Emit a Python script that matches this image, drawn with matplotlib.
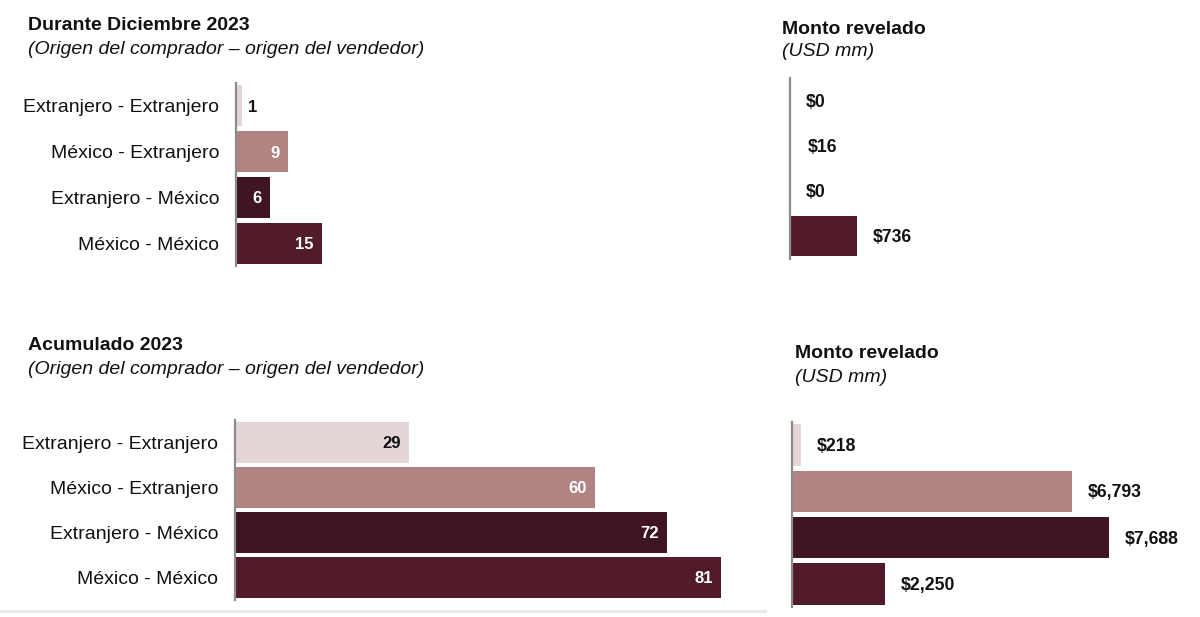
import matplotlib.pyplot as plt
from matplotlib.lines import Line2D

plt.rcParams['font.family'] = ['Liberation Sans', 'DejaVu Sans']

categorias = ['Extranjero - Extranjero', 'México - Extranjero',
              'Extranjero - México', 'México - México']
colores = ['#e4d5d7', '#b28383', '#3e1520', '#511b2a']

dic_num = [1, 9, 6, 15]
dic_monto = [0, 16, 0, 736]
acum_num = [29, 60, 72, 81]
acum_monto = [218, 6793, 7688, 2250]

W, H = 1200, 617
fig = plt.figure(figsize=(12, 6.17), dpi=100)
txt = '#111111'


def px_axes(x0, y0, w, h):
    # rectangle in pixels (top-left origin) -> figure fraction
    return fig.add_axes([x0 / W, 1 - (y0 + h) / H, w / W, h / H])


def base(ax, xmax, labels):
    ax.set_xlim(0, xmax)
    ax.set_ylim(3.5, -0.5)
    for s in ['top', 'right', 'bottom']:
        ax.spines[s].set_visible(False)
    ax.spines['left'].set_color('#8c8c8c')
    ax.spines['left'].set_linewidth(1.6)
    ax.set_xticks([])
    ax.tick_params(axis='y', length=0, pad=12)
    ax.set_yticks(range(4))
    if labels:
        ax.set_yticklabels(categorias, fontsize=14, color=txt)
    else:
        ax.set_yticklabels([])
    ax.patch.set_alpha(0)


def conteo(ax, vals, alto):
    ax.barh(range(4), vals, height=alto, color=colores)
    for i, v in enumerate(vals):
        ancho_px = v * ax.bbox.width / ax.get_xlim()[1]
        if ancho_px < 20:
            ax.annotate(str(v), (v, i), xytext=(4.5, -1), textcoords='offset points',
                        ha='left', va='center', fontsize=12, fontweight='bold', color=txt)
        else:
            c = txt if i == 0 else 'white'
            ax.annotate(str(v), (v, i), xytext=(-6, -1), textcoords='offset points',
                        ha='right', va='center', fontsize=12, fontweight='bold', color=c)


def monto(ax, vals, alto):
    ax.barh(range(4), vals, height=alto, color=colores)
    for i, v in enumerate(vals):
        ax.annotate('${:,}'.format(v), (v, i), xytext=(11.5, -1), textcoords='offset points',
                    ha='left', va='center', fontsize=12.7, fontweight='bold', color=txt)


# Durante diciembre
ax1 = px_axes(236, 83, 300, 183)
base(ax1, 300 / 5.73, True)
conteo(ax1, dic_num, 0.9)

ax2 = px_axes(790, 78, 300, 181)
base(ax2, 300 / 0.091, False)
monto(ax2, dic_monto, 0.88)

# Acumulado
ax3 = px_axes(235, 420, 520, 180)
base(ax3, 520 / 6.0, True)
conteo(ax3, acum_num, 0.89)

ax4 = px_axes(792, 422, 380, 185)
base(ax4, 380 / 0.0412, False)
monto(ax4, acum_monto, 0.9)

# titulos
def titulo(x, y, t1, t2):
    fig.text(x / W, 1 - (y + 2) / H, t1, fontsize=14, fontweight='bold', color=txt, va='center')
    fig.text(x / W, 1 - (y + 25) / H, t2, fontsize=14, style='italic', color=txt, va='center')

titulo(28, 24, 'Durante Diciembre 2023', '(Origen del comprador – origen del vendedor)')
titulo(782, 27, 'Monto revelado', '(USD mm)')
titulo(28, 344, 'Acumulado 2023', '(Origen del comprador – origen del vendedor)')
titulo(795, 352, 'Monto revelado', '(USD mm)')

fig.add_artist(Line2D([0, 765 / W], [1 - 611 / H, 1 - 611 / H], color='#e8e8e8', lw=2))

fig.savefig('out.png', dpi=100)
